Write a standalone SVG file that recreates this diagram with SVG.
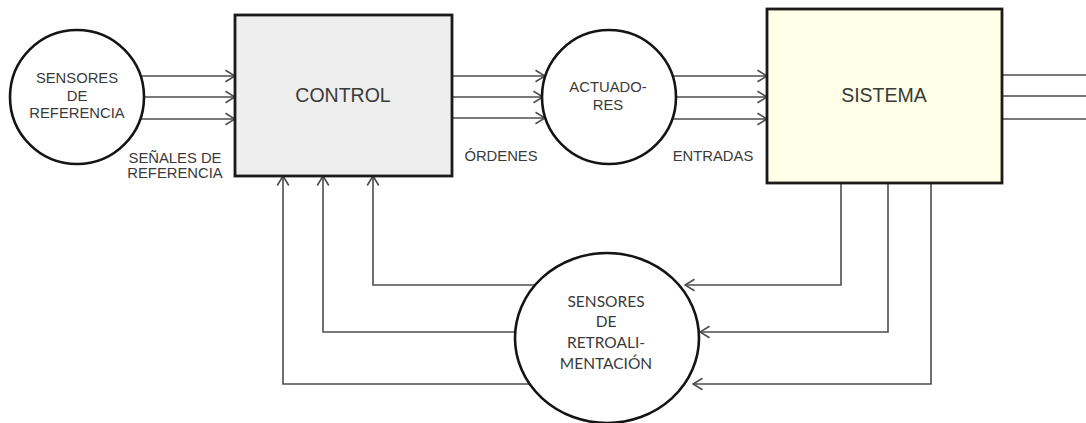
<svg xmlns="http://www.w3.org/2000/svg" width="1086" height="423" viewBox="0 0 1086 423">
  <style>
    .bg { fill: #ffffff; }
    .circ { fill: #ffffff; stroke: #141414; stroke-width: 2.6; }
    .box { stroke: #1a1a1a; stroke-width: 2.8; }
    .wire { fill: none; stroke: #4d4d4d; stroke-width: 1.6; }
    .lbl { font-family: "Liberation Sans", Arial, sans-serif; fill: #3a3a3a; text-anchor: middle; }
    .big { font-size: 19.5px; }
    .mid { font-size: 14.8px; }
    .cal { font-family: Lato, "Open Sans", sans-serif; font-size: 15.5px; fill: #3a3a3a; text-anchor: middle; }
  </style>
  <defs>
    <marker id="chev" viewBox="-11 -7 12 14" refX="0" refY="0" markerWidth="12" markerHeight="14" markerUnits="userSpaceOnUse" orient="auto">
      <path d="M-9.5,-5.8 L0,0 L-9.5,5.8" fill="none" stroke="#4d4d4d" stroke-width="1.6"/>
    </marker>
  </defs>

  <rect class="bg" x="0" y="0" width="1086" height="423"/>

  <!-- connectors -->
  <g id="connectors">
    <!-- reference sensors to control -->
    <path class="wire" d="M141,76 H235" marker-end="url(#chev)"/>
    <path class="wire" d="M144,97 H235" marker-end="url(#chev)"/>
    <path class="wire" d="M141,119 H235" marker-end="url(#chev)"/>
    <!-- control to actuators -->
    <path class="wire" d="M452,76 H545" marker-end="url(#chev)"/>
    <path class="wire" d="M452,97 H543" marker-end="url(#chev)"/>
    <path class="wire" d="M452,118 H545" marker-end="url(#chev)"/>
    <!-- actuators to system -->
    <path class="wire" d="M673,76 H767" marker-end="url(#chev)"/>
    <path class="wire" d="M676,97 H767" marker-end="url(#chev)"/>
    <path class="wire" d="M673,119 H767" marker-end="url(#chev)"/>
    <!-- system outputs -->
    <path class="wire" d="M1002,75 H1086"/>
    <path class="wire" d="M1002,96 H1086"/>
    <path class="wire" d="M1002,119 H1086"/>
    <!-- system to feedback sensors -->
    <path class="wire" d="M841,183 V285 H685" marker-end="url(#chev)"/>
    <path class="wire" d="M888,183 V332 H700" marker-end="url(#chev)"/>
    <path class="wire" d="M931,183 V384 H693" marker-end="url(#chev)"/>
    <!-- feedback sensors to control -->
    <path class="wire" d="M534,285 H373 V176" marker-end="url(#chev)"/>
    <path class="wire" d="M516,332 H323 V176" marker-end="url(#chev)"/>
    <path class="wire" d="M534,384 H283 V176" marker-end="url(#chev)"/>
  </g>

  <!-- reference sensors -->
  <g id="sensores-referencia">
    <circle class="circ" cx="77" cy="97" r="67"/>
    <text class="lbl mid" x="77" y="83">SENSORES</text>
    <text class="lbl mid" x="77" y="101">DE</text>
    <text class="lbl mid" x="77" y="118">REFERENCIA</text>
  </g>

  <g id="senales-referencia">
    <text class="lbl mid" x="175" y="163">SEÑALES DE</text>
    <text class="lbl mid" x="175" y="178">REFERENCIA</text>
  </g>

  <!-- controller -->
  <g id="control">
    <rect class="box" x="235" y="15" width="217" height="161" fill="#eeeeee"/>
    <text class="lbl big" x="343" y="102">CONTROL</text>
  </g>

  <g id="ordenes">
    <text class="lbl mid" x="501" y="161">ÓRDENES</text>
  </g>

  <!-- actuators -->
  <g id="actuadores">
    <circle class="circ" cx="609" cy="97" r="67"/>
    <text class="lbl mid" x="608" y="92">ACTUADO-</text>
    <text class="lbl mid" x="608" y="110">RES</text>
  </g>

  <g id="entradas">
    <text class="lbl mid" x="713" y="161">ENTRADAS</text>
  </g>

  <!-- plant -->
  <g id="sistema">
    <rect class="box" x="767" y="9" width="235" height="174" fill="#ffffe8"/>
    <text class="lbl big" x="884" y="102">SISTEMA</text>
  </g>

  <!-- feedback sensors -->
  <g id="sensores-retroalimentacion">
    <ellipse class="circ" cx="607" cy="338" rx="92" ry="85"/>
    <text class="cal" x="606" y="307">SENSORES</text>
    <text class="cal" x="606" y="327">DE</text>
    <text class="cal" x="606" y="348">RETROALI-</text>
    <text class="cal" x="606" y="369">MENTACIÓN</text>
  </g>
</svg>
